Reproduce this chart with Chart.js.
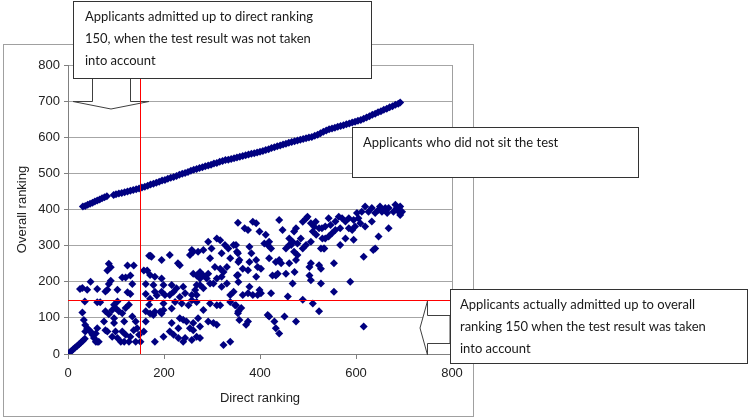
<!DOCTYPE html>
<html>
<head>
<meta charset="utf-8">
<script src="https://cdn.jsdelivr.net/npm/chart.js@4"></script>
<style>
  html, body { margin: 0; padding: 0; background: #fff; }
  #wrap { position: relative; width: 750px; height: 419px; }
</style>
</head>
<body>
<div id="wrap"><canvas id="chart"></canvas></div>
<script>
// Applicants who sat the test: [direct ranking, overall ranking]
var testedPoints = [
  [0,0],[3,4],[7,8],[11,13],[15,18],[19,22],[23,27],[27,32],[31,37],[35,42],
  [25,180],[30,183],[40,178],[47,200],[61,180],
  [35,145],[61,143],[67,143],[30,115],
  [33,94],[36,80],[40,71],[44,66],[47,62],[36,62],[51,53],[54,44],[58,34],[61,34],[64,34],[58,57],[61,71],
  [78,66],[82,62],[78,118],[75,90],[85,110],
  [82,178],[78,173],[85,194],[89,203],[89,240],[85,250],[82,231],
  [96,136],[99,127],[92,122],[103,145],[106,118],[96,99],[96,86],[99,62],[92,48],[103,44],[110,34],[117,34],[120,53],[113,62],
  [103,178],[113,212],[120,212],[124,245],[137,245],[130,217],[134,194],[124,171],[130,166],[120,127],[127,136],[113,113],
  [117,90],[134,104],[141,90],[137,66],[144,71],[148,53],[151,34],[141,34],[130,48],[127,34],[158,62],[162,90],
  [162,166],[162,194],[165,231],[169,272],[172,272],[158,231],[169,136],[162,118],
  [174,269],[195,260],[212,274],[229,251],[233,246],
  [171,219],[178,191],[181,214],[195,209],[199,191],[195,172],[181,172],[216,191],[220,172],[226,182],[240,186],[244,168],
  [258,288],[254,274],[261,283],[271,283],[282,288],[292,311],[299,292],[296,265],[310,320],[317,315],[320,279],[327,302],
  [334,292],[338,265],[345,302],[352,283],[355,255],[331,241],[324,227],[320,214],[317,236],[306,241],[310,209],[303,195],
  [296,195],[289,209],[292,222],[282,217],[275,227],[268,217],[261,222],[275,209],[268,191],[265,177],[258,163],[268,163],
  [282,182],[275,191],[338,163],[345,172],[352,217],[355,199],[331,195],[320,186],
  [171,153],[185,162],[199,140],[202,163],[212,163],[223,144],[233,158],[237,140],[251,135],[258,149],[268,144],[282,122],
  [296,140],[310,135],[317,135],[338,144],[348,135],[355,118],
  [171,112],[181,117],[192,117],[195,112],[199,122],[216,126],[178,108],
  [216,86],[233,99],[240,95],[247,90],[261,86],[271,99],[275,76],[292,90],[303,86],[310,81],[254,71],[261,66],[230,71],
  [181,34],[199,48],[212,62],[220,53],[230,44],[240,34],[244,44],[258,39],[268,48],[275,44],[324,25],[338,34],
  [354,363],[368,348],[375,343],[385,366],[392,362],[399,339],[412,330],[419,311],[416,302],[409,306],[423,292],[440,371],
  [447,343],[461,320],[471,339],[475,348],[468,311],[465,302],[478,306],[485,320],[489,366],[496,375],[499,380],[506,362],
  [513,352],[516,366],[523,348],[510,339],[517,330],[530,320],[527,292],[534,292],[506,311],[496,302],[489,292],[478,274],
  [471,283],[461,302],[454,292],[475,260],
  [350,302],[354,279],[357,260],[378,297],[382,279],[378,255],[375,232],[364,236],[354,219],[392,260],[395,241],[392,214],
  [402,236],[419,265],[433,255],[440,260],[444,251],[461,251],[426,217],[433,217],[437,222],[454,222],[472,227],[506,251],
  [503,241],[523,246],[527,236],[503,217],[506,204],[527,195],[468,195],
  [364,163],[375,168],[378,186],[385,163],[395,163],[402,168],[399,177],[423,168],[458,159],[489,150],[510,140],[523,118],
  [350,135],[361,127],[354,113],[357,94],
  [375,90],[371,81],[416,108],[419,104],[430,90],[433,71],[440,57],[451,104],[475,90],
  [619,408],[633,404],[650,408],[668,404],[682,413],[692,408],[689,394],[678,394],[665,390],[654,394],[640,390],[626,394],
  [612,394],[602,390],[605,376],[595,371],[585,376],[578,367],[571,376],[564,380],[557,367],[547,357],[543,376],[536,353],
  [529,348],[692,385],[696,394],[685,404],[661,404],[647,399],[609,362],[598,353],[592,343],[585,348],[567,348],[557,343],
  [550,334],[543,325],[536,320],[578,320],[567,302],[595,316],[668,348],[647,325],[619,353],[633,367],
  [533,292],[554,251],[616,269],[636,288],[640,292],[588,200],[554,172],[616,76]
];

// Applicants who did not sit the test
var untestedDirect = [
  31,36,41,46,51,56,61,66,71,76,81,
  95,100,106,112,118,124,130,136,142,148,154,160,166,172,178,184,190,
  196,202,208,214,220,226,232,238,244,250,256,262,268,274,280,286,292,298,304,310,316,322,328,
  334,340,346,352,358,364,370,376,382,388,394,400,406,412,418,424,430,436,442,448,454,460,466,
  472,478,484,490,496,502,508,514,520,526,532,538,544,550,556,562,568,574,580,586,592,598,604,
  610,616,622,628,634,640,646,652,658,664,670,676,682,688,692
];
var untestedOverall = [
  408,410,413,416,419,422,425,428,431,434,437,
  440,442,444,446,448,450,452,454,456,458,461,463,466,469,471,474,477,
  480,482,485,488,490,493,496,499,501,504,507,510,512,515,517,520,522,524,527,529,532,534,537,
  538,540,542,544,546,548,550,552,554,556,558,560,562,565,567,570,572,575,577,580,582,585,587,
  589,591,593,595,597,599,601,604,607,611,615,619,622,624,626,629,631,633,636,638,641,643,646,
  648,651,655,658,662,665,669,672,676,679,683,686,690,693,696
];

var xTicks = [0, 200, 400, 600, 800];
var yTicks = [0, 100, 200, 300, 400, 500, 600, 700, 800];
var directCutoff = 150;
var overallCutoff = 150;

var callouts = [
  { box: [73, 1, 298, 77], lines: ["Applicants admitted up to direct ranking", "150, when the test result was not taken", "into account"], tx: 85, ty: 17 },
  { box: [352, 127, 286, 50], lines: ["Applicants who did not sit the test"], tx: 363, ty: 143 },
  { box: [450, 289, 297, 74], lines: ["Applicants actually admitted up to overall", "ranking 150 when the test result was taken", "into account"], tx: 460, ty: 305 }
];

var testedData = testedPoints.map(function (p) { return { x: p[0], y: p[1] }; });
var untestedData = untestedDirect.map(function (d, i) { return { x: d, y: untestedOverall[i] }; });

function drawPoly(ctx, pts) {
  ctx.beginPath();
  ctx.moveTo(pts[0][0], pts[0][1]);
  for (var i = 1; i < pts.length; i++) ctx.lineTo(pts[i][0], pts[i][1]);
  ctx.closePath();
  ctx.fillStyle = "#fff";
  ctx.fill();
  ctx.strokeStyle = "#404040";
  ctx.lineWidth = 1;
  ctx.stroke();
}

var decorations = {
  id: "decorations",
  beforeDraw: function (chart) {
    var ctx = chart.ctx;
    ctx.save();
    ctx.fillStyle = "#fff";
    ctx.fillRect(0, 0, chart.width, chart.height);
    ctx.strokeStyle = "#a0a0a0";
    ctx.lineWidth = 1;
    ctx.strokeRect(3.5, 44.5, 470, 372);
    ctx.restore();
  },
  beforeDatasetsDraw: function (chart) {
    var ctx = chart.ctx, a = chart.chartArea;
    ctx.save();
    ctx.strokeStyle = "#a0a0a0";
    ctx.lineWidth = 1;
    ctx.beginPath();
    ctx.moveTo(Math.round(a.right) + 0.5, a.top);
    ctx.lineTo(Math.round(a.right) + 0.5, a.bottom);
    ctx.stroke();
    ctx.restore();
  },
  afterDraw: function (chart) {
    var ctx = chart.ctx;
    var xs = chart.scales.x, ys = chart.scales.y;
    ctx.save();
    // block arrows
    drawPoly(ctx, [[92.5, 78], [92.5, 101.5], [73, 101.5], [111, 109], [149, 101.5], [130.5, 101.5], [130.5, 78]]);
    drawPoly(ctx, [[450, 315.5], [427.5, 315.5], [427.5, 301], [420, 328], [427.5, 355], [427.5, 343.5], [450, 343.5]]);
    // cutoff lines
    ctx.strokeStyle = "#ff0000";
    ctx.lineWidth = 1;
    var vx = Math.round(xs.getPixelForValue(directCutoff)) + 0.5;
    ctx.beginPath();
    ctx.moveTo(vx, ys.getPixelForValue(800));
    ctx.lineTo(vx, ys.getPixelForValue(0));
    ctx.stroke();
    var hy = Math.round(ys.getPixelForValue(overallCutoff)) + 0.5;
    ctx.beginPath();
    ctx.moveTo(xs.getPixelForValue(0), hy);
    ctx.lineTo(xs.getPixelForValue(800), hy);
    ctx.stroke();
    // callout boxes
    callouts.forEach(function (c) {
      ctx.fillStyle = "#fff";
      ctx.fillRect(c.box[0], c.box[1], c.box[2], c.box[3]);
      ctx.strokeStyle = "#333";
      ctx.strokeRect(c.box[0] + 0.5, c.box[1] + 0.5, c.box[2], c.box[3]);
      ctx.fillStyle = "#1a1a1a";
      ctx.font = "13px Lato";
      ctx.textBaseline = "middle";
      ctx.textAlign = "left";
      c.lines.forEach(function (t, i) {
        ctx.fillText(t, c.tx, c.ty + i * 21.7);
      });
    });
    ctx.restore();
  }
};

var axisFont = { family: "'Liberation Sans', Arial, sans-serif", size: 13 };

new Chart(document.getElementById("chart"), {
  type: "scatter",
  data: {
    datasets: [
      { label: "Tested", data: testedData, pointStyle: "rectRot", pointRadius: 4, pointHoverRadius: 4,
        backgroundColor: "#000080", borderColor: "#000080", borderWidth: 0 },
      { label: "Not tested", data: untestedData, pointStyle: "rectRot", pointRadius: 4, pointHoverRadius: 4,
        backgroundColor: "#000080", borderColor: "#000080", borderWidth: 0 }
    ]
  },
  options: {
    responsive: true,
    maintainAspectRatio: false,
    animation: false,
    layout: { padding: { left: 0, top: 65, right: 298, bottom: 0 } },
    plugins: { legend: { display: false }, tooltip: { enabled: false } },
    scales: {
      x: {
        type: "linear", min: 0, max: 800,
        afterFit: function (s) { s.height = 65; },
        afterBuildTicks: function (s) { s.ticks = xTicks.map(function (v) { return { value: v }; }); },
        ticks: { font: axisFont, color: "#222", padding: 7, maxRotation: 0 },
        grid: { drawOnChartArea: false, tickLength: 5, tickColor: "#808080" },
        border: { color: "#808080" },
        title: { display: true, text: "Direct ranking", font: axisFont, color: "#222", padding: { bottom: 13 } }
      },
      y: {
        type: "linear", min: 0, max: 800,
        afterFit: function (s) { s.width = 68; },
        afterBuildTicks: function (s) { s.ticks = yTicks.map(function (v) { return { value: v }; }); },
        ticks: { font: axisFont, color: "#222", padding: 4 },
        grid: { color: "#a6a6a6", tickLength: 4, tickColor: "#808080" },
        border: { color: "#808080" },
        title: { display: true, text: "Overall ranking", font: axisFont, color: "#222", padding: { top: 15 } }
      }
    }
  },
  plugins: [decorations]
});
</script>
</body>
</html>
